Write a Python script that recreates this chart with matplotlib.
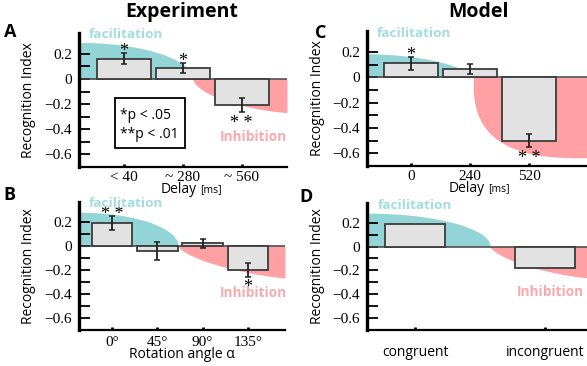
import numpy as np
import matplotlib
matplotlib.use("Agg")
import matplotlib.pyplot as plt
from matplotlib.patches import Rectangle

# ---------------- data ----------------
exp_delay_labels = ['< 40', '~ 280', '~ 560']
exp_delay_values = [0.16, 0.09, -0.21]
exp_delay_errors = [0.045, 0.04, 0.055]
exp_delay_stars = ['*', '*', '* *']

exp_rot_labels = ['0°', '45°', '90°', '135°']
exp_rot_values = [0.19, -0.04, 0.02, -0.20]
exp_rot_errors = [0.055, 0.075, 0.035, 0.055]
exp_rot_stars = ['* *', '', '', '*']

mod_delay_labels = ['0', '240', '520']
mod_delay_values = [0.11, 0.065, -0.50]
mod_delay_errors = [0.05, 0.04, 0.05]
mod_delay_stars = ['*', '', '* *']

mod_cong_labels = ['congruent', 'incongruent']
mod_cong_values = [0.19, -0.18]

ytick_major = [0.2, 0.0, -0.2, -0.4, -0.6]
ytick_minor = [0.1, -0.1, -0.3, -0.5]

# ---------------- style ----------------
SANS = 'Open Sans'
SERIF = 'Liberation Serif'
CYAN = '#93d5d7'
CYAN_TXT = '#a3dcdf'
PINK = '#ffa0a5'
PINK_TXT = '#f7a9ad'
BAR_FC = '#e2e2e2'
BAR_EC = '#3c3c3c'

W, H = 587, 366
fig = plt.figure(figsize=(W / 100, H / 100), dpi=100)


def px_axes(l, t, r, b):
    return fig.add_axes([l / W, 1 - b / H, (r - l) / W, (b - t) / H])


def cyan_curve(x, x0, x1, h, n):
    r = np.clip((x - x0) / (x1 - x0), 0, 1)
    return h * (1 - r ** n) ** (1 / n)


def pink_curve(x, x0, xc, d, n):
    r = np.clip((xc - x) / (xc - x0), 0, 1)
    return -d * (1 - r ** n) ** (1 / n)


def setup(ax, xlim, ylim, labels, tick_pad=3, label_family=SERIF, label_size=11):
    ax.set_xlim(*xlim)
    ax.set_ylim(*ylim)
    for s in ['top', 'right']:
        ax.spines[s].set_visible(False)
    ax.spines['left'].set_linewidth(2.4)
    ax.spines['bottom'].set_linewidth(1.6)
    ax.set_yticks(ytick_major)
    ax.set_yticklabels(['0' if v == 0 else f'{v:.1f}'.replace('-', '\u2212') for v in ytick_major],
                       family=SERIF, fontsize=11)
    ax.set_yticks(ytick_minor, minor=True)
    ax.tick_params(axis='y', which='both', direction='in', length=8, width=1.3, pad=5)
    xs = np.arange(len(labels))
    ax.set_xticks(xs)
    ax.set_xticklabels(labels, family=label_family, fontsize=label_size)
    ax.tick_params(axis='x', direction='in', length=2.5, width=2, pad=tick_pad)
    ax.set_facecolor('none')
    return xs


def shade(ax, c0, c1, ch, cn, p0, pc, pd, pn):
    xl = ax.get_xlim()
    x = np.linspace(xl[0], xl[1], 800)
    yc = np.where(x <= c1, cyan_curve(x, c0, c1, ch, cn), 0)
    yp = np.where(x >= p0, pink_curve(x, p0, pc, pd, pn), 0)
    ax.fill_between(x, 0, yc, where=x <= c1, color=CYAN, lw=0, zorder=1)
    ax.fill_between(x, 0, yp, where=x >= p0, color=PINK, lw=0, zorder=1)
    ax.axhline(0, color='#404040', lw=1.1, zorder=2)


def bars(ax, xs, vals, width, errs=None):
    ax.bar(xs, vals, width=width, color=BAR_FC, edgecolor=BAR_EC, linewidth=1.3, zorder=3)
    if errs is not None:
        ax.errorbar(xs, vals, yerr=errs, fmt='none', ecolor='#202020', elinewidth=1.3,
                    capsize=2, capthick=1.1, zorder=4)


def stars(ax, xs, vals, errs, marks):
    for x, v, e, m in zip(xs, vals, errs, marks):
        if not m:
            continue
        if v >= 0:
            ax.annotate(m, (x, v + e), xytext=(0, -2.2), textcoords='offset points',
                        ha='center', va='baseline', family=SERIF, fontsize=13, zorder=5)
        else:
            ax.annotate(m, (x, v - e), xytext=(0, -11.3), textcoords='offset points',
                        ha='center', va='baseline', family=SERIF, fontsize=13, zorder=5)


def ylabel(ax, xfrac):
    ax.text(xfrac, 0.5, 'Recognition Index', rotation=90, transform=ax.transAxes,
            ha='center', va='center', family=SANS, fontsize=10)


def facil(ax, xf, yf):
    ax.text(xf, yf, 'facilitation', transform=ax.transAxes, ha='left', va='center',
            family=SANS, fontweight='bold', fontsize=9.7, color=CYAN_TXT, zorder=6)


def inhib(ax, xf, yf):
    ax.text(xf, yf, 'Inhibition', transform=ax.transAxes, ha='left', va='center',
            family=SANS, fontweight='bold', fontsize=9.8, color=PINK_TXT, zorder=6)


YL = (-0.7, 0.365)

# ---------------- Panel A ----------------
axA = px_axes(79, 33, 287, 167)
xs = setup(axA, (-0.765, 2.77), YL, exp_delay_labels)
shade(axA, -0.765, 1.16, 0.29, 2.0, 1.17, 2.99, 0.272, 1.7)
bars(axA, xs, exp_delay_values, 0.92, exp_delay_errors)
stars(axA, xs, exp_delay_values, exp_delay_errors, exp_delay_stars)
ylabel(axA, -0.245)
facil(axA, 0.048, 0.99)
inhib(axA, 0.678, 0.224)
axA.add_patch(Rectangle((0.173, 0.142), 0.337, 0.373, transform=axA.transAxes,
                        fc='white', ec='black', lw=1.3, zorder=6))
axA.text(0.197, 0.388, '*p < .05', transform=axA.transAxes, ha='left', va='center',
         family=SANS, fontsize=10, zorder=7)
axA.text(0.197, 0.239, '**p < .01', transform=axA.transAxes, ha='left', va='center',
         family=SANS, fontsize=10, zorder=7)
axA.text(0.567, -0.168, 'Delay', transform=axA.transAxes, ha='right', va='center',
         family=SANS, fontsize=10)
axA.text(0.582, -0.168, '[ms]', transform=axA.transAxes, ha='left', va='center',
         family=SANS, fontsize=7.5)

# ---------------- Panel B ----------------
axB = px_axes(79, 202, 285, 330)
xs = setup(axB, (-0.73, 3.82), YL, exp_rot_labels, tick_pad=4)
shade(axB, -0.73, 1.46, 0.28, 2.0, 1.46, 4.15, 0.275, 1.5)
bars(axB, xs, exp_rot_values, 0.9, exp_rot_errors)
stars(axB, xs, exp_rot_values, exp_rot_errors, exp_rot_stars)
ylabel(axB, -0.243)
facil(axB, 0.049, 0.992)
inhib(axB, 0.684, 0.29)
axB.set_xlabel('Rotation angle \u03b1', family=SANS, fontsize=10, labelpad=-1)

# ---------------- Panel C ----------------
axC = px_axes(367, 31, 587, 166)
xs = setup(axC, (-0.746, 2.98), YL, mod_delay_labels)
shade(axC, -0.746, 1.0, 0.186, 1.8, 1.05, 2.98, 0.635, 2.8)
bars(axC, xs, mod_delay_values, 0.91, mod_delay_errors)
stars(axC, xs, mod_delay_values, mod_delay_errors, mod_delay_stars)
ylabel(axC, -0.223)
facil(axC, 0.045, 0.978)
axC.text(0.536, -0.168, 'Delay', transform=axC.transAxes, ha='right', va='center',
         family=SANS, fontsize=10)
axC.text(0.55, -0.168, '[ms]', transform=axC.transAxes, ha='left', va='center',
         family=SANS, fontsize=7.5)

# ---------------- Panel D ----------------
axD = px_axes(367, 203, 587, 330)
xs = setup(axD, (-0.37, 1.32), YL, mod_cong_labels, tick_pad=11,
           label_family=SANS, label_size=10)
shade(axD, -0.37, 0.577, 0.28, 2.0, 0.577, 1.42, 0.27, 1.5)
bars(axD, xs, mod_cong_values, 0.46)
ylabel(axD, -0.223)
facil(axD, 0.05, 0.984)
inhib(axD, 0.682, 0.30)

# ---------------- titles / letters ----------------
fig.text(182 / W, 1 - 12 / H, 'Experiment', ha='center', va='center', family=SANS,
         fontweight='bold', fontsize=14)
fig.text(478 / W, 1 - 12 / H, 'Model', ha='center', va='center', family=SANS,
         fontweight='bold', fontsize=14)
for letter, (px, py) in zip('ABCD', [(10, 32), (9, 195), (321, 33), (306, 197)]):
    fig.text(px / W, 1 - py / H, letter, ha='center', va='center', family=SANS,
             fontweight='bold', fontsize=13)

fig.savefig('out.png', dpi=100)
